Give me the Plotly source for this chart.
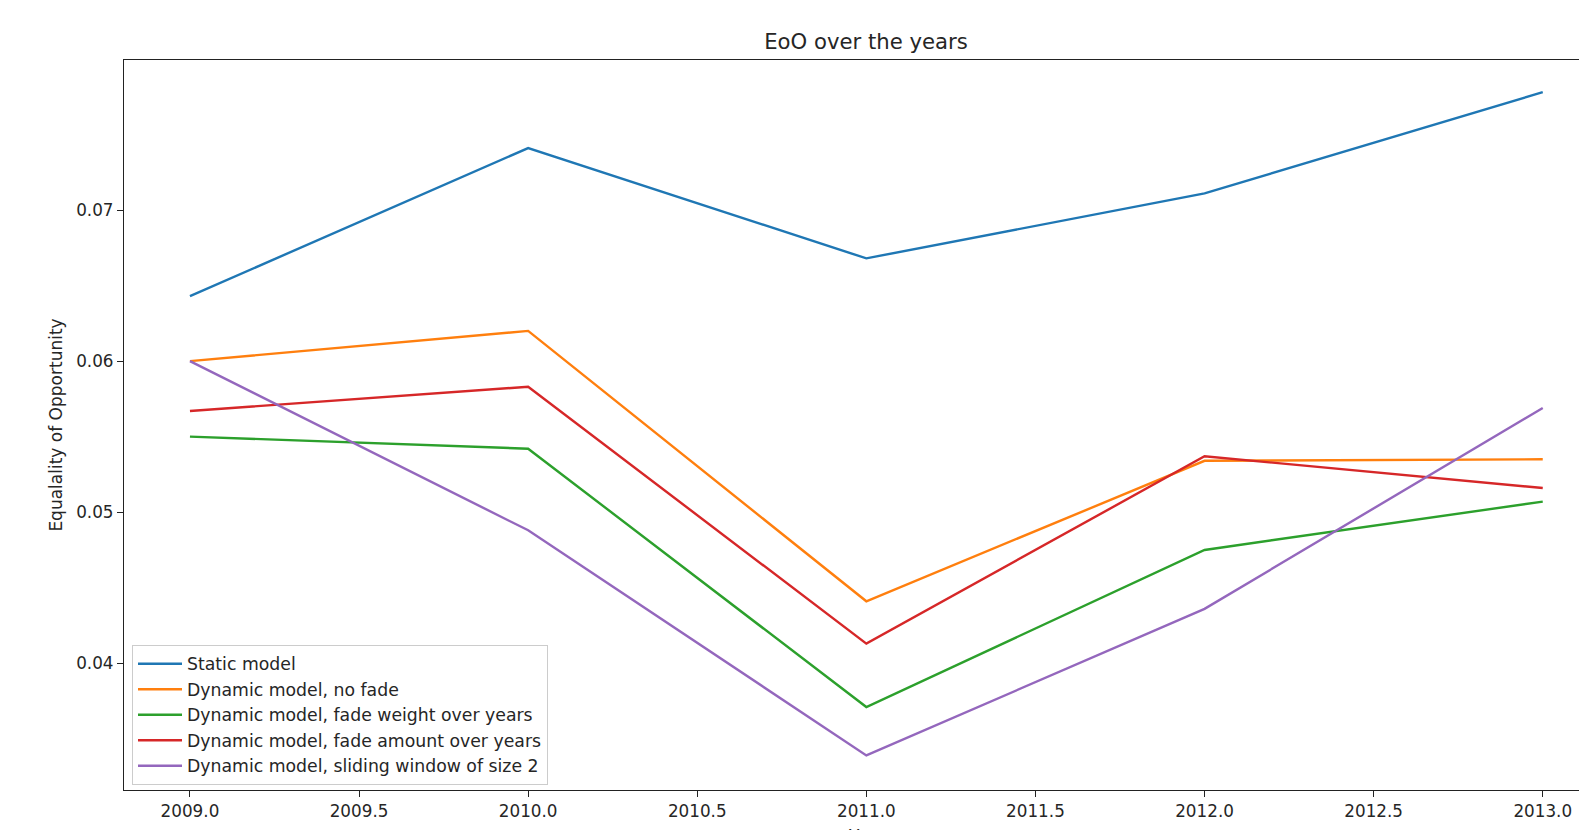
import plotly.graph_objects as go

# Evaluation years
years = [2009, 2010, 2011, 2012, 2013]

# Equality of Opportunity per model variant
static_model = [0.0643, 0.0741, 0.0668, 0.0711, 0.0778]
dyn_no_fade = [0.0600, 0.0620, 0.0441, 0.0534, 0.0535]
dyn_fade_weight = [0.0550, 0.0542, 0.0371, 0.0475, 0.0507]
dyn_fade_amount = [0.0567, 0.0583, 0.0413, 0.0537, 0.0516]
dyn_sliding_2 = [0.0600, 0.0488, 0.0339, 0.0436, 0.0569]

series_names = [
    "Static model",
    "Dynamic model, no fade",
    "Dynamic model, fade weight over years",
    "Dynamic model, fade amount over years",
    "Dynamic model, sliding window of size 2",
]
series_values = [static_model, dyn_no_fade, dyn_fade_weight, dyn_fade_amount, dyn_sliding_2]
colors = ["#1f77b4", "#ff7f0e", "#2ca02c", "#d62728", "#9467bd"]

x_ticks = [2009.0, 2009.5, 2010.0, 2010.5, 2011.0, 2011.5, 2012.0, 2012.5, 2013.0]
x_tick_text = ["2009.0", "2009.5", "2010.0", "2010.5", "2011.0", "2011.5", "2012.0", "2012.5", "2013.0"]
y_ticks = [0.04, 0.05, 0.06, 0.07]
y_tick_text = ["0.04", "0.05", "0.06", "0.07"]

FONT = "DejaVu Sans"
TEXT = "#262626"

fig = go.Figure()
for i, (name, vals, col) in enumerate(zip(series_names, series_values, colors)):
    fig.add_trace(go.Scatter(
        x=years, y=vals, name=name, mode="lines",
        line=dict(color=col, width=2.4),
        legendgroup=f"g{i}",
    ))

W, H = 1579, 830
L, R, T, B = 124, 0, 60, 40
plot_w = W - L - R
plot_h = H - T - B
x_left = 2008.805
px_per_year = 338.2
x_right = x_left + plot_w / px_per_year
# the axes box continues past the right edge of the page; its centre is here
axes_center_px = 866

fig.update_layout(
    width=W, height=H,
    margin=dict(l=L, r=R, t=T, b=B, pad=0, autoexpand=False),
    paper_bgcolor="white", plot_bgcolor="white",
    font=dict(family=FONT, size=17, color=TEXT),
    title=dict(
        text="EoO over the years",
        font=dict(family=FONT, size=21.2, color=TEXT),
        x=(axes_center_px - L) / plot_w, xref="paper", xanchor="center",
        y=1 - 42 / H, yref="container", yanchor="middle",
    ),
    showlegend=True,
    legend=dict(
        x=(132 - L) / plot_w, y=(H - B - 645) / plot_h,
        xanchor="left", yanchor="top",
        bgcolor="rgba(255,255,255,0.8)",
        bordercolor="#cccccc", borderwidth=1,
        font=dict(family=FONT, size=17.3, color=TEXT),
        tracegroupgap=1, itemwidth=44,
        traceorder="normal",
    ),
    xaxis=dict(
        range=[x_left, x_right],
        tickmode="array", tickvals=x_ticks, ticktext=x_tick_text,
        ticks="outside", ticklen=6, tickwidth=1, tickcolor="#222",
        tickfont=dict(family=FONT, size=16.8, color=TEXT),
        showgrid=False, zeroline=False, automargin=False,
        showline=True, linecolor="#222", linewidth=1.2, mirror=True,
    ),
    yaxis=dict(
        range=[0.03161, 0.07993],
        tickmode="array", tickvals=y_ticks, ticktext=y_tick_text,
        ticks="outside", ticklen=6, tickwidth=1, tickcolor="#222",
        tickfont=dict(family=FONT, size=16.8, color=TEXT),
        showgrid=False, zeroline=False, automargin=False,
        showline=True, linecolor="#222", linewidth=1.2, mirror=False,
        title=dict(text="Equalality of Opportunity", standoff=9,
                   font=dict(family=FONT, size=17, color=TEXT)),
    ),
    annotations=[dict(
        text="Year", showarrow=False,
        xref="paper", yref="paper",
        x=(axes_center_px - L) / plot_w, y=-(824 - (H - B)) / plot_h,
        xanchor="center", yanchor="top",
        font=dict(family=FONT, size=17, color=TEXT),
    )],
)

fig.write_html("out.html")
